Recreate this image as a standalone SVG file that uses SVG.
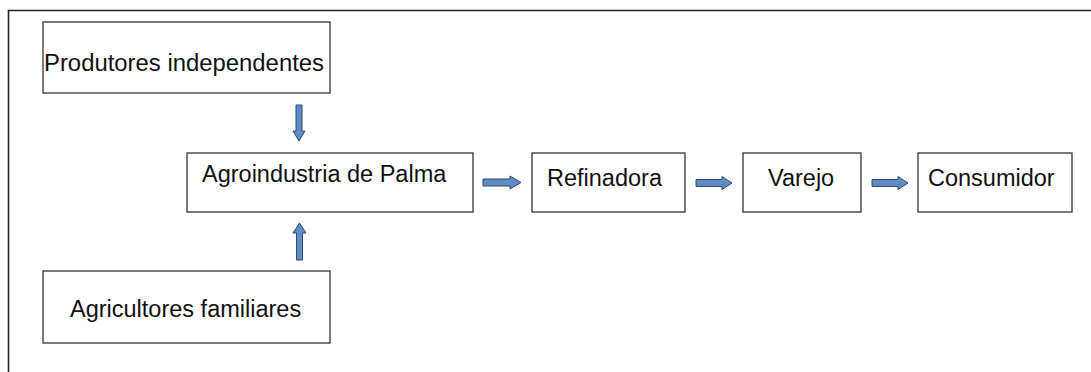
<svg xmlns="http://www.w3.org/2000/svg" width="1091" height="372" viewBox="0 0 1091 372">
<style>
.box{fill:#fff;stroke:#333;stroke-width:1.3}
.lbl{font-family:"Liberation Sans",Arial,sans-serif;font-size:23.5px;fill:#111}
.arr{fill:#5f8cc4;stroke:#2c4a6e;stroke-width:1}
.frame{fill:none;stroke:#222;stroke-width:1.6}
</style>
<rect width="1091" height="372" fill="#fff"/>
<path class="frame" d="M8.5 380 V10.5 H1095"/>
<g id="produtores"><rect class="box" x="43" y="22" width="287" height="71"/><text class="lbl" x="44" y="71" textLength="280" lengthAdjust="spacingAndGlyphs">Produtores independentes</text></g>
<g id="agroindustria"><rect class="box" x="187" y="153" width="286" height="59"/><text class="lbl" x="202" y="182">Agroindustria de Palma</text></g>
<g id="refinadora"><rect class="box" x="532" y="153" width="153" height="59"/><text class="lbl" x="547" y="186">Refinadora</text></g>
<g id="varejo"><rect class="box" x="743" y="153" width="118" height="59"/><text class="lbl" x="768" y="186">Varejo</text></g>
<g id="consumidor"><rect class="box" x="918" y="153" width="154" height="59"/><text class="lbl" x="928" y="186">Consumidor</text></g>
<g id="agricultores"><rect class="box" x="43" y="271" width="287" height="72"/><text class="lbl" x="70" y="317">Agricultores familiares</text></g>
<g id="connectors">
<path class="arr" d="M296 105 H302 V131 H305 L299 141 L293 131 H296 Z"/>
<path class="arr" d="M296.5 260 H302.5 V233 H306 L299.5 223 L293 233 H296.5 Z"/>
<path class="arr" d="M483 179 H510 V176 L521 182.5 L510 189 V186 H483 Z"/>
<path class="arr" d="M696 179.5 H722 V176.5 L732 183 L722 189.5 V186.5 H696 Z"/>
<path class="arr" d="M872 179.5 H898 V176.5 L908 183 L898 189.5 V186.5 H872 Z"/>
</g>
</svg>
